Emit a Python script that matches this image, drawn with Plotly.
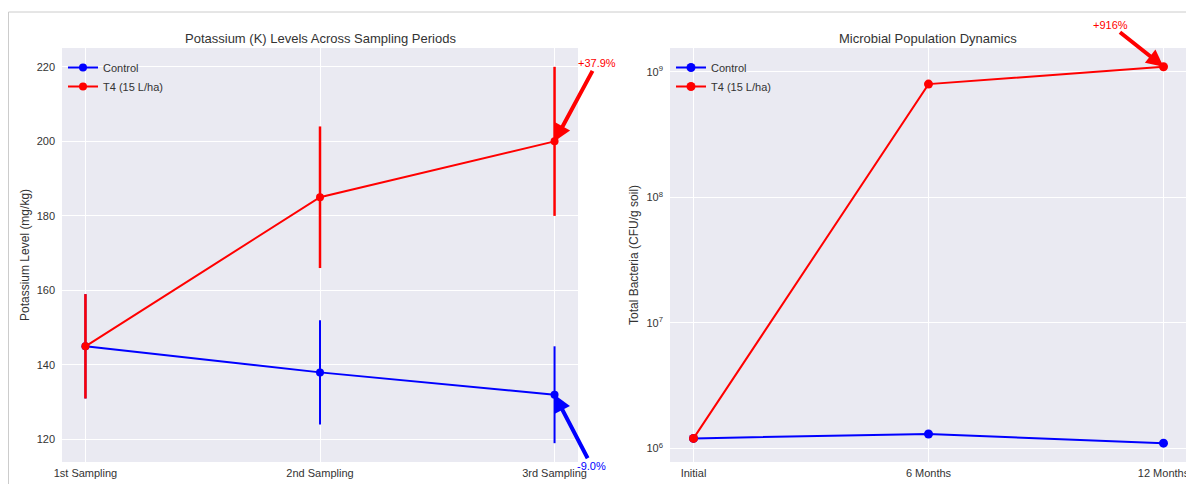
import math
import plotly.graph_objects as go

# page body adds an 8px margin, so the figure is drawn 8px smaller and offset
OFF = 8
W, H = 1194 - OFF, 484 - OFF
FONT = "Liberation Sans"
BG = "#EAEAF2"
TEXT = "#333333"

# left panel: potassium
sampling = ["1st Sampling", "2nd Sampling", "3rd Sampling"]
k_control = [145, 138, 132]
k_control_err = [14, 14, 13]
k_t4 = [145, 185, 200]
k_t4_err = [14, 19, 20]
k_ticks = [120, 140, 160, 180, 200, 220]

# right panel: microbes
periods = ["Initial", "6 Months", "12 Months"]
bac_control = [1.2e6, 1.3e6, 1.1e6]
bac_t4 = [1.2e6, 8.0e8, 1.1e9]
bac_ticks = [1e6, 1e7, 1e8, 1e9]
bac_ticktext = ["10<sup>6</sup>", "10<sup>7</sup>", "10<sup>8</sup>", "10<sup>9</sup>"]


def px_x(p):
    return (p - OFF) / W


def px_y(p):
    return 1 - (p - OFF) / H


fig = go.Figure()

for name, y, err, color, thick in [
    ("Control", k_control, k_control_err, "blue", 2),
    ("T4 (15 L/ha)", k_t4, k_t4_err, "red", 2.5),
]:
    fig.add_trace(go.Scatter(
        x=[0, 1, 2], y=y, name=name, mode="lines+markers",
        line=dict(color=color, width=2), marker=dict(color=color, size=8),
        error_y=dict(type="data", array=err, color=color, thickness=thick, width=0),
        xaxis="x", yaxis="y", legend="legend",
    ))

for name, y, color in [
    ("Control", bac_control, "blue"),
    ("T4 (15 L/ha)", bac_t4, "red"),
]:
    fig.add_trace(go.Scatter(
        x=[0, 1, 2], y=y, name=name, mode="lines+markers",
        line=dict(color=color, width=2), marker=dict(color=color, size=9),
        xaxis="x2", yaxis="y2", legend="legend2",
    ))

ydom = [px_y(462), px_y(48)]
axis_common = dict(
    showgrid=True, gridcolor="white", gridwidth=1, zeroline=False,
    showline=False, ticks="", tickfont=dict(size=11, color=TEXT, family=FONT),
    automargin=False,
)

fig.update_layout(
    xaxis=dict(domain=[px_x(62), px_x(578)], range=[-0.1, 2.1],
               tickvals=[0, 1, 2], ticktext=sampling, anchor="y",
               ticklabelstandoff=3, **axis_common),
    yaxis=dict(domain=ydom, range=[113.95, 225.05], tickvals=k_ticks,
               anchor="x", ticklabelstandoff=6, **axis_common),
    xaxis2=dict(domain=[px_x(670), px_x(1187)], range=[-0.1, 2.1],
                tickvals=[0, 1, 2], ticktext=periods, anchor="y2",
                ticklabelstandoff=3, **axis_common),
    yaxis2=dict(domain=ydom, type="log", range=[5.891, 9.191],
                tickvals=bac_ticks, ticktext=bac_ticktext, anchor="x2",
                ticklabelstandoff=6, **axis_common),
)

legend_common = dict(
    bgcolor="rgba(0,0,0,0)", font=dict(size=11, color=TEXT, family=FONT),
    xanchor="left", yanchor="top", tracegroupgap=0, itemwidth=30,
)
fig.update_layout(
    legend=dict(x=px_x(63), y=px_y(53), **legend_common),
    legend2=dict(x=px_x(671), y=px_y(53), **legend_common),
)

ann_font = dict(size=13, color=TEXT, family=FONT)
axt_font = dict(size=12, color=TEXT, family=FONT)
arrow = dict(showarrow=True, arrowhead=2, arrowsize=0.85, arrowwidth=4)

annotations = [
    dict(text="Potassium (K) Levels Across Sampling Periods", x=px_x(320),
         y=px_y(38), xref="paper", yref="paper", showarrow=False,
         xanchor="center", yanchor="middle", font=ann_font),
    dict(text="Microbial Population Dynamics", x=px_x(928), y=px_y(38),
         xref="paper", yref="paper", showarrow=False,
         xanchor="center", yanchor="middle", font=ann_font),
    dict(text="Potassium Level (mg/kg)", x=px_x(25), y=px_y(255),
         xref="paper", yref="paper", showarrow=False, textangle=-90,
         xanchor="center", yanchor="middle", font=axt_font),
    dict(text="Total Bacteria (CFU/g soil)", x=px_x(634), y=px_y(255),
         xref="paper", yref="paper", showarrow=False, textangle=-90,
         xanchor="center", yanchor="middle", font=axt_font),
    dict(text="+37.9%", x=2, y=k_t4[2], xref="x", yref="y", ax=42, ay=-78,
         arrowcolor="red", font=dict(size=11, color="red", family=FONT), **arrow),
    dict(text="-9.0%", x=2, y=k_control[2], xref="x", yref="y", ax=37, ay=71,
         arrowcolor="blue", font=dict(size=11, color="blue", family=FONT), **arrow),
    # log axis: annotation y is given in log10 units
    dict(text="+916%", x=2, y=math.log10(bac_t4[2]), xref="x2", yref="y2",
         ax=-53, ay=-42, arrowcolor="red",
         font=dict(size=11, color="red", family=FONT), **arrow),
]

fig.update_layout(
    width=W, height=H,
    margin=dict(l=0, r=0, t=0, b=0),
    paper_bgcolor="white", plot_bgcolor=BG,
    font=dict(family=FONT, color=TEXT),
    annotations=annotations,
    shapes=[dict(type="rect", xref="paper", yref="paper",
                 x0=0.5 / W, y0=-0.02, x1=1.02, y1=px_y(12),
                 line=dict(color="#cccccc", width=1), layer="below")],
)

fig.write_html("out.html")
